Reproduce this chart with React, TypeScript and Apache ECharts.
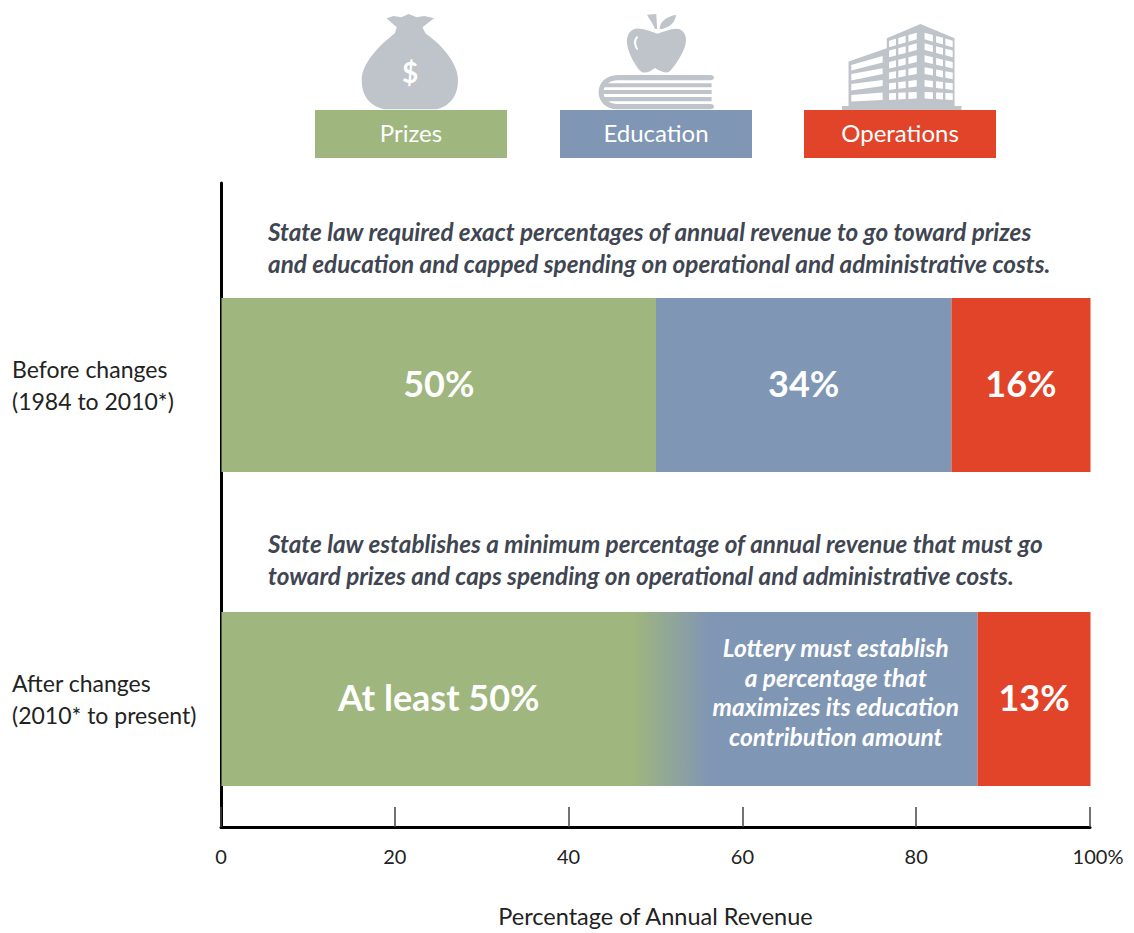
import React, { useEffect, useRef } from "react";
import * as echarts from "echarts";

const periods = ["Before changes\n(1984 to 2010*)", "After changes\n(2010* to present)"];
const prizes = [50, 50];
const education = [34, 37];
const operations = [16, 13];
const prizeLabels = ["50%", "At least 50%"];
const educationLabels = ["34%", "Lottery must establish\na percentage that\nmaximizes its education\ncontribution amount"];
const operationLabels = ["16%", "13%"];
const xTicks = [0, 20, 40, 60, 80, 100];
const legendNames = ["Prizes", "Education", "Operations"];
const noteBefore = [
  "State law required exact percentages of annual revenue to go toward prizes",
  "and education and capped spending on operational and administrative costs.",
];
const noteAfter = [
  "State law establishes a minimum percentage of annual revenue that must go",
  "toward prizes and caps spending on operational and administrative costs.",
];

const GREEN = "#9FB67E";
const BLUE = "#8096B5";
const RED = "#E2442A";
const MID = "#96AC8E";
const ICON = "#BFC4CA";
const FONT = "Lato, 'Open Sans', sans-serif";

const lerp = (a: number, b: number, t: number) => a + (b - a) * t;
const rowsNear = [122, 152, 186, 218, 250, 280];
const rowsFar = [98, 130, 166, 202, 240, 276];

function win(x0: number, x1: number, a: number, b: number, ra: number, rb: number, h: number) {
  const t0 = (x0 - a) / (b - a);
  const t1 = (x1 - a) / (b - a);
  const y0 = lerp(ra, rb, t0);
  const y1 = lerp(ra, rb, t1);
  return `M${x0} ${y0}L${x1} ${y1}L${x1} ${y1 + h}L${x0} ${y0 + h}Z`;
}
let buildingWindows =
  "M1198 195L1266 168L1266 188L1198 212Z M1198 222L1266 205L1266 222L1198 242Z M1198 252L1266 240L1266 258L1198 272Z M1198 285L1266 278L1266 300L1198 305Z ";
for (let i = 0; i < 6; i++) {
  for (const [x0, x1] of [[1280, 1295], [1300, 1316], [1322, 1340]]) {
    buildingWindows += win(x0, x1, 1280, 1340, rowsNear[i], rowsFar[i], 20) + " ";
  }
  for (const [x0, x1] of [[1357, 1375], [1382, 1397], [1402, 1418]]) {
    buildingWindows += win(x0, x1, 1357, 1418, rowsFar[i], rowsNear[i], 20) + " ";
  }
}

const shapes: Record<string, string> = {
  bagIcon:
    "M190 55L205 48L222 52L238 42L255 52L272 48L293 55L268 82L274 100C310 135 345 190 345 240C345 290 325 320 298 328L185 328C155 318 136 290 136 240C136 190 175 135 208 100L212 82Z",
  appleIcon:
    "M755 44L775 42L777 88L772 86C768 70 760 58 755 44Z M782 88C782 66 798 48 818 45C816 68 804 84 782 88Z M778 101C795 94 812 82 826 88C838 96 842 115 838 135C832 165 816 195 806 212C800 222 788 218 772 204C758 220 746 222 738 210C728 192 716 165 712 135C709 110 716 90 730 86C746 84 762 94 778 101Z",
  appleShine: "M733 108C725 118 724 134 733 150L736 148C730 134 730 120 736 112Z",
  bookIcon:
    "M692 225L892 225C903 225 903 241 892 241L692 241C650 241 650 312 692 312L892 312C903 312 903 328 892 328L692 328C636 328 636 225 692 225Z M660 250L895 250L895 262L660 262Z M660 270L895 270L895 282L660 282Z M660 291L895 291L895 304L660 304Z",
  buildingIcon:
    "M1348 72L1422 115L1422 318L1437 318L1437 330L1178 330L1178 318L1192 318L1192 185L1275 145L1275 115Z",
  buildingWindows,
};
Object.entries(shapes).forEach(([k, d]) =>
  echarts.graphic.registerShape(k, echarts.graphic.extendPath(d, {}))
);

const bigLabel = (text: string) => ({
  show: true,
  position: "inside",
  formatter: text,
  color: "#fff",
  fontFamily: FONT,
  fontWeight: "bold",
  fontSize: 36,
  offset: [0, -2],
});

const lg = (x0: number, x1: number, stops: [number, string][]) => ({
  type: "linear",
  x: x0,
  y: 0,
  x2: x1,
  y2: 0,
  colorStops: stops.map(([offset, color]) => ({ offset, color })),
});

export default function App() {
  const ref = useRef<HTMLDivElement>(null);
  useEffect(() => {
    const chart = echarts.init(ref.current!, undefined, { renderer: "svg" });
    const icon = (type: string, fill: string) => ({
      type,
      x: 299,
      y: 0,
      scaleX: 1 / 2.167,
      scaleY: 1 / 3,
      style: { fill },
      silent: true,
    });
    const note = (lines: string[], ys: number[]) =>
      lines.map((text, i) => ({
        type: "text",
        x: 268,
        y: ys[i],
        style: {
          text,
          fill: "#3F4652",
          font: `italic bold 24.3px ${FONT}`,
          textVerticalAlign: "middle",
        },
      }));
    const legendX = [315, 560, 804];
    const legendColor = [GREEN, BLUE, RED];
    chart.setOption({
      animation: false,
      textStyle: { fontFamily: FONT },
      grid: [
        { left: 221.5, width: 869, top: 228, height: 628, containLabel: false },
        { left: 221, width: 869, top: 183, height: 650, containLabel: false },
      ],
      xAxis: [
        { gridIndex: 0, type: "value", min: 0, max: 100, show: false },
        {
          gridIndex: 1,
          type: "value",
          min: 0,
          max: 100,
          interval: 20,
          splitLine: { show: false },
          axisLine: { show: true, onZero: false, lineStyle: { color: "#000", width: 3 } },
          axisTick: { show: true, inside: true, length: 20, lineStyle: { color: "#444", width: 1.5 } },
          axisLabel: {
            margin: 19,
            color: "#222",
            fontSize: 20,
            fontFamily: FONT,
            rich: { last: { fontSize: 20, fontFamily: FONT, color: "#222", padding: [0, 0, 0, 16] } },
            formatter: (v: number) => (v === xTicks[xTicks.length - 1] ? `{last|${v}%}` : `${v}`),
          },
          name: "Percentage of Annual Revenue",
          nameLocation: "middle",
          nameGap: 77,
          nameTextStyle: { color: "#222", fontSize: 23.5, fontFamily: FONT },
        },
      ],
      yAxis: [
        {
          gridIndex: 0,
          type: "category",
          inverse: true,
          data: periods,
          axisLine: { show: false },
          axisTick: { show: false },
          axisLabel: {
            align: "left",
            margin: 209.5,
            color: "#222",
            fontSize: 23,
            lineHeight: 32,
            fontFamily: FONT,
            padding: [0, 0, 2, 0],
          },
        },
        {
          gridIndex: 1,
          type: "value",
          min: 0,
          max: 1,
          splitLine: { show: false },
          axisTick: { show: false },
          axisLabel: { show: false },
          axisLine: { show: true, onZero: false, lineStyle: { color: "#000", width: 3 } },
        },
      ],
      series: [
        {
          name: "Prizes",
          type: "bar",
          stack: "revenue",
          xAxisIndex: 0,
          yAxisIndex: 0,
          barWidth: 174,
          z: 3,
          data: prizes.map((value, i) => ({
            value,
            itemStyle: { color: i === 0 ? GREEN : lg(0, 1, [[0, GREEN], [0.947, GREEN], [1, MID]]) },
            label: bigLabel(prizeLabels[i]),
          })),
        },
        {
          name: "Education",
          type: "bar",
          stack: "revenue",
          xAxisIndex: 0,
          yAxisIndex: 0,
          barWidth: 174,
          z: 3,
          data: education.map((value, i) => ({
            value,
            itemStyle: { color: i === 0 ? BLUE : lg(0, 1, [[0, MID], [0.168, BLUE], [1, BLUE]]) },
            label:
              i === 0
                ? bigLabel(educationLabels[i])
                : {
                    ...bigLabel(educationLabels[i]),
                    fontSize: 24.5,
                    fontStyle: "italic",
                    lineHeight: 29.5,
                    offset: [19, -7],
                    align: "center",
                  },
          })),
        },
        {
          name: "Operations",
          type: "bar",
          stack: "revenue",
          xAxisIndex: 0,
          yAxisIndex: 0,
          barWidth: 174,
          z: 3,
          data: operations.map((value, i) => ({
            value,
            itemStyle: { color: RED },
            label: bigLabel(operationLabels[i]),
          })),
        },
      ],
      graphic: [
        icon("bagIcon", ICON),
        { type: "text", x: 410, y: 72, style: { text: "$", fill: "#fff", font: `bold 28px ${FONT}`, textAlign: "center", textVerticalAlign: "middle" } },
        icon("appleIcon", ICON),
        icon("appleShine", "#fff"),
        icon("bookIcon", ICON),
        icon("buildingIcon", ICON),
        icon("buildingWindows", "#fff"),
        ...legendNames.flatMap((name, i) => [
          { type: "rect", shape: { x: legendX[i], y: 110, width: 192, height: 48 }, style: { fill: legendColor[i] } },
          {
            type: "text",
            x: legendX[i] + 96,
            y: 132,
            style: { text: name, fill: "#fff", font: `24px ${FONT}`, textAlign: "center", textVerticalAlign: "middle" },
          },
        ]),
        ...note(noteBefore, [231, 263]),
        ...note(noteAfter, [543, 575]),
      ],
    });
    return () => chart.dispose();
  }, []);
  return <div ref={ref} style={{ position: "absolute", left: 0, top: 0, width: 1134, height: 933 }} />;
}
